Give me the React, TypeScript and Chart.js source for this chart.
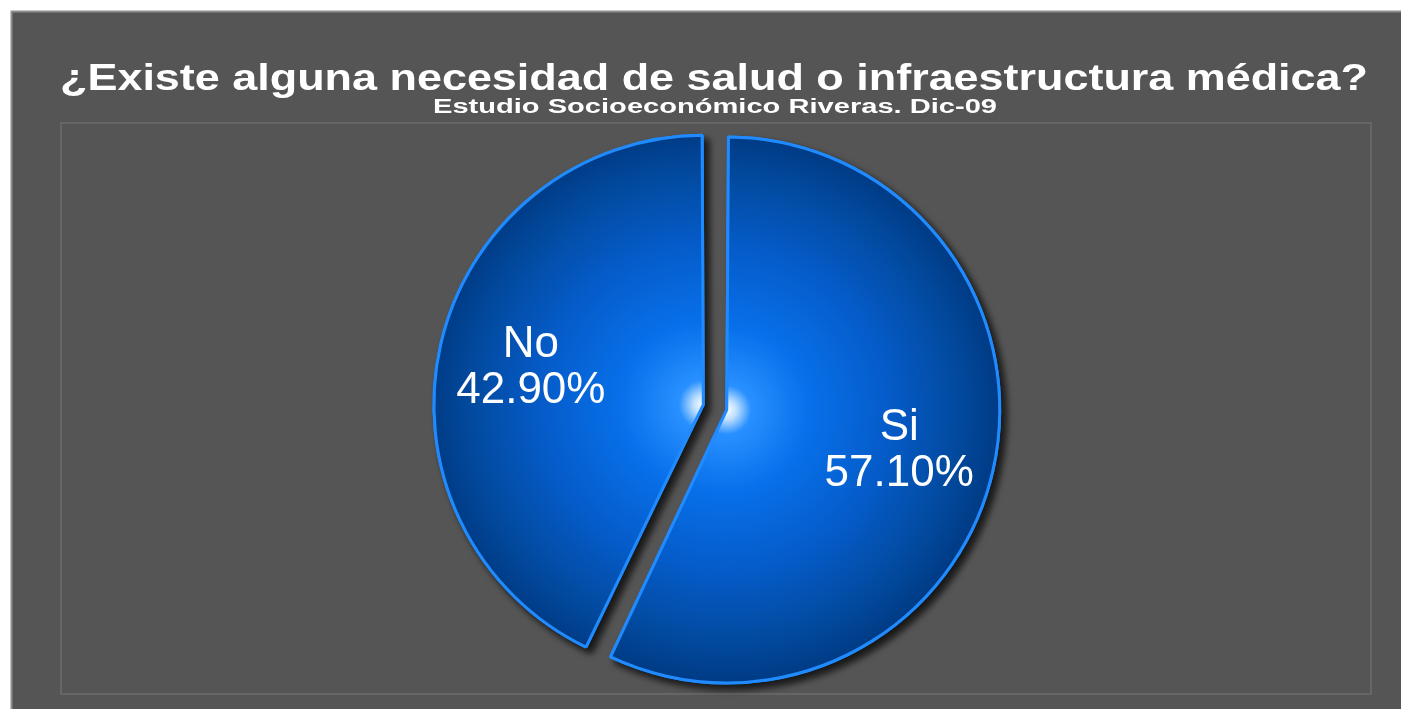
import React, { useEffect, useRef } from "react";
import { Chart, registerables } from "chart.js";

Chart.register(...registerables);

const TITLE = "¿Existe alguna necesidad de salud o infraestructura médica?";
const SUBTITLE = "Estudio Socioeconómico Riveras. Dic-09";
const categories = ["Si", "No"];
const values = [57.1, 42.9];
const valueLabels = ["57.10%", "42.90%"];

const FONT = '"Liberation Sans", Arial, Helvetica, sans-serif';
const W = 1401;
const H = 709;
const RADIUS = 262;

function drawStretched(ctx: CanvasRenderingContext2D, text: string, cx: number, baseline: number, targetWidth: number) {
  const w = ctx.measureText(text).width;
  const sx = w > 0 ? targetWidth / w : 1;
  ctx.save();
  ctx.translate(cx, baseline);
  ctx.scale(sx, 1);
  ctx.fillText(text, 0, 0);
  ctx.restore();
}

const backdropPlugin = {
  id: "backdrop",
  beforeDraw(chart: any) {
    const { ctx, width, height } = chart;
    ctx.save();
    ctx.fillStyle = "#ffffff";
    ctx.fillRect(0, 0, width, height);
    ctx.fillStyle = "#555555";
    ctx.fillRect(11, 11, width - 11, height - 11);
    ctx.strokeStyle = "#8e8e8e";
    ctx.lineWidth = 2;
    ctx.beginPath();
    ctx.moveTo(11.5, height);
    ctx.lineTo(11.5, 11.5);
    ctx.lineTo(width, 11.5);
    ctx.stroke();
    ctx.strokeStyle = "#666666";
    ctx.lineWidth = 2;
    ctx.strokeRect(61, 123, 1310, 571);

    ctx.fillStyle = "#ffffff";
    ctx.textAlign = "center";
    ctx.textBaseline = "alphabetic";
    ctx.font = `bold 36px ${FONT}`;
    drawStretched(ctx, TITLE, 714, 90, 1308);
    ctx.font = `bold 20px ${FONT}`;
    drawStretched(ctx, SUBTITLE, 715, 113, 564);
    ctx.restore();
  },
};

function arcShift(arc: any) {
  return (arc.options.offset || 0) / 4;
}

const shadowPlugin = {
  id: "sliceShadow",
  beforeDatasetsDraw(chart: any) {
    const ctx = chart.ctx;
    const meta = chart.getDatasetMeta(0);
    meta.data.forEach((arc: any) => {
      ctx.save();
      ctx.shadowColor = "rgba(0,0,0,0.75)";
      ctx.shadowBlur = 7;
      ctx.shadowOffsetX = 5;
      ctx.shadowOffsetY = 5;
      arc.draw(ctx);
      ctx.restore();
    });
  },
};

const labelPlugin = {
  id: "sliceLabels",
  afterDatasetsDraw(chart: any) {
    const ctx = chart.ctx;
    const meta = chart.getDatasetMeta(0);
    ctx.save();
    ctx.fillStyle = "#ffffff";
    ctx.textAlign = "center";
    ctx.textBaseline = "alphabetic";
    ctx.font = `44px ${FONT}`;
    meta.data.forEach((arc: any, i: number) => {
      const mid = (arc.startAngle + arc.endAngle) / 2;
      const d = arcShift(arc) + arc.outerRadius * 0.675;
      const x = arc.x + Math.cos(mid) * d;
      const y = arc.y + Math.sin(mid) * d;
      ctx.fillText(categories[i], x, y - 9);
      ctx.fillText(valueLabels[i], x, y + 37);
    });
    ctx.restore();
  },
};

const sliceFill = (c: any) => {
  const chart = c.chart;
  const a = chart.chartArea;
  if (!a) return "#0a5fd0";
  const cx = (a.left + a.right) / 2;
  const cy = (a.top + a.bottom) / 2;
  const g = chart.ctx.createRadialGradient(cx, cy, 0, cx, cy, RADIUS + 10);
  g.addColorStop(0, "#ffffff");
  g.addColorStop(0.035, "#c0e0ff");
  g.addColorStop(0.09, "#2890ff");
  g.addColorStop(0.3, "#0870ea");
  g.addColorStop(0.6, "#055bc8");
  g.addColorStop(0.85, "#024a9f");
  g.addColorStop(1, "#003b85");
  return g;
};

export default function App() {
  const ref = useRef<HTMLCanvasElement | null>(null);
  useEffect(() => {
    if (!ref.current) return;
    const chart = new Chart(ref.current, {
      type: "pie",
      data: {
        labels: categories,
        datasets: [
          {
            data: values,
            backgroundColor: sliceFill,
            borderColor: "#1f8bff",
            borderWidth: 3,
            offset: [44, 52],
            radius: RADIUS,
          } as any,
        ],
      },
      options: {
        responsive: false,
        animation: false,
        events: [],
        layout: { padding: { left: 31, right: 0, top: 116, bottom: 10 } },
        plugins: {
          legend: { display: false },
          title: { display: false },
          tooltip: { enabled: false },
        },
      },
      plugins: [backdropPlugin, shadowPlugin, labelPlugin],
    });
    return () => chart.destroy();
  }, []);
  return (
    <div style={{ position: "absolute", left: 0, top: 0, width: W, height: H }}>
      <canvas ref={ref} width={W} height={H} style={{ display: "block", width: W, height: H }} />
    </div>
  );
}
